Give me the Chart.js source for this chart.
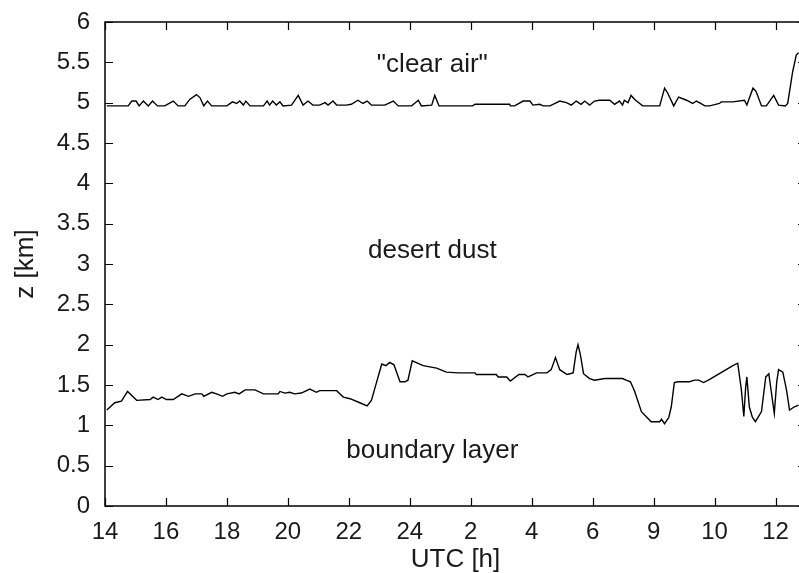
<!DOCTYPE html>
<html>
<head>
<meta charset="utf-8">
<script src="https://cdn.jsdelivr.net/npm/chart.js@4/dist/chart.umd.min.js"></script>
<style>
  html, body { margin: 0; padding: 0; background: #fff; }
  #wrap { width: 799px; height: 573px; overflow: hidden; }
</style>
</head>
<body>
<div id="wrap"><canvas id="lidar" width="808" height="573"></canvas></div>
<script>
// x is a position index: one step per labelled tick
const xLabels = ['14', '16', '18', '20', '22', '24', '2', '4', '6', '9', '10', '12'];
const yTicks = [0, 0.5, 1, 1.5, 2, 2.5, 3, 3.5, 4, 4.5, 5, 5.5, 6];

// top of boundary layer (km)
const blX = [0.03, 0.16, 0.27, 0.37, 0.52, 0.74, 0.79, 0.87, 0.93, 1.01, 1.12, 1.26, 1.37, 1.48, 1.59, 1.62,
    1.75, 1.83, 1.93, 2.00, 2.13, 2.20, 2.30, 2.46, 2.60, 2.84, 2.87, 2.95, 3.03, 3.11, 3.22, 3.36, 3.47, 3.52,
    3.80, 3.91, 4.02, 4.18, 4.30, 4.37, 4.45, 4.54, 4.61, 4.67, 4.74, 4.84, 4.92, 4.97, 5.04, 5.22, 5.44, 5.60,
    5.79, 6.07, 6.09, 6.42, 6.45, 6.59, 6.65, 6.79, 6.89, 6.94, 7.08, 7.25, 7.32, 7.39, 7.46, 7.58, 7.68, 7.73,
    7.76, 7.80, 7.85, 7.95, 8.03, 8.20, 8.49, 8.55, 8.62, 8.69, 8.80, 8.96, 9.10, 9.13, 9.18, 9.25, 9.29, 9.34,
    9.40, 9.59, 9.67, 9.74, 9.82, 9.92, 10.03, 10.19, 10.30, 10.38, 10.44, 10.48, 10.51, 10.53, 10.57, 10.62,
    10.67, 10.77, 10.84, 10.89, 10.95, 10.98, 11.02, 11.05, 11.12, 11.18, 11.23, 11.31, 11.38];
const blZ = [1.19, 1.28, 1.30, 1.42, 1.31, 1.32, 1.35, 1.32, 1.35, 1.32, 1.32, 1.39, 1.36, 1.39, 1.39, 1.36,
    1.41, 1.39, 1.36, 1.39, 1.41, 1.39, 1.44, 1.44, 1.39, 1.39, 1.42, 1.40, 1.41, 1.39, 1.40, 1.45, 1.41, 1.43,
    1.43, 1.35, 1.33, 1.28, 1.24, 1.31, 1.52, 1.76, 1.74, 1.78, 1.75, 1.54, 1.54, 1.56, 1.80, 1.74, 1.71, 1.66,
    1.65, 1.65, 1.63, 1.63, 1.60, 1.60, 1.55, 1.63, 1.63, 1.60, 1.65, 1.65, 1.69, 1.84, 1.69, 1.63, 1.65, 1.91,
    2.00, 1.87, 1.64, 1.58, 1.56, 1.58, 1.58, 1.56, 1.54, 1.42, 1.17, 1.045, 1.045, 1.075, 1.02, 1.10, 1.23, 1.53,
    1.54, 1.54, 1.56, 1.56, 1.53, 1.57, 1.62, 1.69, 1.74, 1.77, 1.44, 1.11, 1.47, 1.60, 1.23, 1.10,
    1.045, 1.17, 1.60, 1.64, 1.31, 1.15, 1.54, 1.69, 1.66, 1.44, 1.19, 1.23, 1.25];

// top of desert dust layer (km)
const dustX = [0.03, 0.38, 0.44, 0.51, 0.56, 0.63, 0.71, 0.78, 0.86, 0.98, 1.12, 1.20, 1.31, 1.39, 1.50, 1.56,
    1.62, 1.68, 1.75, 2.00, 2.09, 2.16, 2.21, 2.27, 2.31, 2.38, 2.60, 2.66, 2.70, 2.75, 2.81, 2.87, 2.92, 3.06,
    3.17, 3.25, 3.33, 3.41, 3.52, 3.61, 3.66, 3.74, 3.80, 3.96, 4.04, 4.15, 4.23, 4.30, 4.37, 4.59, 4.73, 4.81,
    5.03, 5.14, 5.19, 5.36, 5.41, 5.48, 5.82, 6.03, 6.07, 6.64, 6.65, 6.72, 6.86, 6.97, 7.02, 7.13, 7.19, 7.30,
    7.46, 7.57, 7.65, 7.73, 7.81, 7.87, 7.95, 8.03, 8.11, 8.28, 8.36, 8.44, 8.49, 8.52, 8.58, 8.63, 8.69, 8.82,
    9.10, 9.18, 9.23, 9.33, 9.41, 9.54, 9.64, 9.70, 9.75, 9.84, 9.92, 10.08, 10.11, 10.30, 10.49, 10.53, 10.63,
    10.68, 10.77, 10.85, 10.97, 11.05, 11.16, 11.20, 11.28, 11.34, 11.38];
const dustZ = [4.96, 4.96, 5.02, 5.02, 4.96, 5.02, 4.96, 5.02, 4.96, 4.96, 5.02, 4.96, 4.96, 5.04, 5.10, 5.06,
    4.96, 5.02, 4.96, 4.96, 5.01, 4.99, 5.02, 4.97, 5.02, 4.96, 4.96, 5.02, 4.97, 5.02, 4.97, 5.01, 4.96, 4.97,
    5.09, 4.97, 5.02, 4.97, 4.97, 5.00, 4.97, 5.02, 4.97, 4.97, 4.98, 5.03, 4.99, 5.02, 4.97, 4.97, 5.02, 4.96,
    4.96, 5.03, 4.96, 4.97, 5.09, 4.96, 4.96, 4.96, 4.98, 4.98, 4.96, 4.96, 5.02, 5.02, 4.97, 4.98, 4.96, 4.96,
    5.02, 5.00, 4.97, 5.02, 4.98, 5.02, 4.97, 5.02, 5.03, 5.03, 4.98, 5.02, 4.97, 5.03, 5.00, 5.09, 5.04, 4.96,
    4.96, 5.18, 5.12, 4.96, 5.07, 5.03, 4.99, 5.02, 5.00, 4.96, 4.96, 4.99, 5.01, 5.01, 5.03, 4.97, 5.18,
    5.14, 4.96, 4.96, 5.09, 4.97, 4.96, 4.99, 5.38, 5.59, 5.62];

const layerNames = ['"clear air"', 'desert dust', 'boundary layer'];

const FONT = 'Liberation Sans, Arial, sans-serif';

// where the layer names sit, in data units
const namePos = [{ x: 5.37, y: 5.47 }, { x: 5.37, y: 3.16 }, { x: 5.37, y: 0.69 }];

const boxPlugin = {
    id: 'box',
    afterDatasetsDraw(chart) {
        const { ctx, chartArea: a, scales: { x, y } } = chart;
        ctx.save();
        ctx.strokeStyle = '#000';
        ctx.lineWidth = 1.5;
        ctx.strokeRect(a.left, a.top, a.right - a.left, a.bottom - a.top);
        ctx.beginPath();
        xLabels.forEach((_, i) => {
            const px = Math.round(x.getPixelForValue(i)) + 0.5;
            ctx.moveTo(px, a.bottom); ctx.lineTo(px, a.bottom - 8);
            ctx.moveTo(px, a.top); ctx.lineTo(px, a.top + 8);
        });
        yTicks.forEach((v) => {
            const py = Math.round(y.getPixelForValue(v)) + 0.5;
            ctx.moveTo(a.left, py); ctx.lineTo(a.left + 8, py);
            ctx.moveTo(a.right, py); ctx.lineTo(a.right - 8, py);
        });
        ctx.lineWidth = 1.2;
        ctx.stroke();

        ctx.fillStyle = '#1a1a1a';
        ctx.font = '26px ' + FONT;
        ctx.textAlign = 'center';
        ctx.textBaseline = 'middle';
        layerNames.forEach((t, i) => {
            ctx.fillText(t, x.getPixelForValue(namePos[i].x), y.getPixelForValue(namePos[i].y));
        });
        ctx.restore();
    }
};

const data = {
    datasets: [{
        label: 'dust top',
        data: dustX.map((v, i) => ({ x: v, y: dustZ[i] })),
        borderColor: '#000',
        borderWidth: 1.4,
        pointRadius: 0,
        tension: 0
    }, {
        label: 'boundary layer top',
        data: blX.map((v, i) => ({ x: v, y: blZ[i] })),
        borderColor: '#000',
        borderWidth: 1.4,
        pointRadius: 0,
        tension: 0
    }]
};

const config = {
    type: 'line',
    data: data,
    options: {
        responsive: false,
        animation: false,
        devicePixelRatio: 1,
        layout: { padding: { top: 22, right: 2, left: 0, bottom: 0 } },
        scales: {
            x: {
                type: 'linear',
                min: 0,
                max: 11.5,
                afterFit: (s) => { s.height = 67; },
                afterBuildTicks: (s) => { s.ticks = xLabels.map((_, i) => ({ value: i })); },
                grid: { display: false },
                border: { display: false },
                ticks: {
                    autoSkip: false,
                    maxRotation: 0,
                    padding: 4,
                    color: '#1a1a1a',
                    font: { family: FONT, size: 24 },
                    callback: (v) => xLabels[v]
                },
                title: {
                    display: true,
                    text: 'UTC [h]',
                    color: '#1a1a1a',
                    font: { family: FONT, size: 26, lineHeight: 1 },
                    padding: { top: 0, bottom: 0 }
                }
            },
            y: {
                min: 0,
                max: 6,
                afterFit: (s) => { s.width = 105; },
                afterBuildTicks: (s) => { s.ticks = yTicks.map((v) => ({ value: v })); },
                grid: { display: false },
                border: { display: false },
                ticks: {
                    autoSkip: false,
                    padding: 7,
                    color: '#1a1a1a',
                    font: { family: FONT, size: 24 },
                    callback: (v) => String(v)
                },
                title: {
                    display: true,
                    text: 'z [km]',
                    color: '#1a1a1a',
                    font: { family: FONT, size: 26, lineHeight: 1 },
                    padding: { top: 13, bottom: 0 }
                }
            }
        },
        plugins: {
            legend: { display: false },
            tooltip: { enabled: false }
        }
    },
    plugins: [boxPlugin]
};

const heights = new Chart(document.getElementById('lidar'), config);
</script>
</body>
</html>
